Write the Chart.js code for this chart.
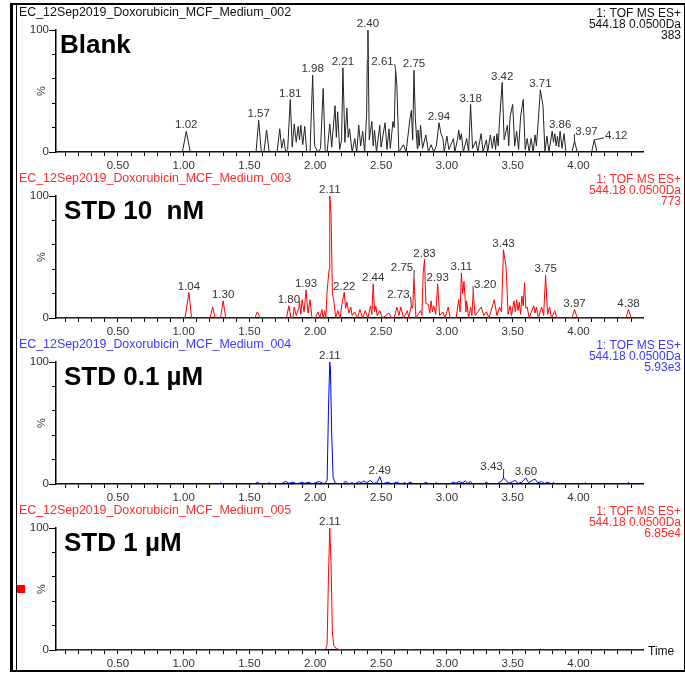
<!DOCTYPE html>
<html>
<head>
<meta charset="utf-8">
<script src="https://cdn.jsdelivr.net/npm/chart.js@4/dist/chart.umd.min.js"></script>
<style>
  body { margin: 0; background: #fff; }
  #page { position: relative; width: 685px; height: 673px; overflow: hidden; background: #fff; }
  #page canvas { position: absolute; left: 0; }
  .frame { position: absolute; pointer-events: none; }
</style>
</head>
<body>
<div id="page">
  <canvas id="p0" width="685" height="174" style="top:0px"></canvas>
  <canvas id="p1" width="685" height="174" style="top:166px"></canvas>
  <canvas id="p2" width="685" height="174" style="top:332px"></canvas>
  <canvas id="p3" width="685" height="174" style="top:498px"></canvas>
  <div class="frame" style="left:10px;top:3px;width:671px;height:665px;border:2px solid #000;border-left-width:3px"></div>
  <div class="frame" style="left:16px;top:3px;width:1px;height:668px;background:#000"></div>
</div>
<script>
// chromatogram data, time (min) vs relative intensity (%)
const fileNames = [
  "EC_12Sep2019_Doxorubicin_MCF_Medium_002",
  "EC_12Sep2019_Doxorubicin_MCF_Medium_003",
  "EC_12Sep2019_Doxorubicin_MCF_Medium_004",
  "EC_12Sep2019_Doxorubicin_MCF_Medium_005"
];
const sampleLabels = ["Blank", "STD 10  nM", "STD 0.1 µM", "STD 1 µM"];
const scaleTexts = ["383", "773", "5.93e3", "6.85e4"];

const blankTime = [0.03, 0.99, 1.02, 1.05, 1.55, 1.57, 1.59, 1.61, 1.63, 1.65, 1.71, 1.73, 1.745, 1.76, 1.775,
  1.79, 1.81, 1.825, 1.84, 1.855, 1.87, 1.88, 1.89, 1.905, 1.92, 1.935, 1.96, 1.98, 1.995, 2.02, 2.04, 2.06, 2.075,
  2.09, 2.11, 2.125, 2.15, 2.16, 2.17, 2.185, 2.20, 2.21, 2.225, 2.24, 2.25, 2.26, 2.28, 2.30, 2.315, 2.33, 2.345,
  2.36, 2.375, 2.39, 2.395, 2.40, 2.41, 2.43, 2.44, 2.45, 2.465, 2.49, 2.50, 2.53, 2.545, 2.56, 2.57, 2.59, 2.60,
  2.61, 2.62, 2.635, 2.67, 2.69, 2.72, 2.73, 2.74, 2.75, 2.76, 2.775, 2.78, 2.79, 2.80, 2.815, 2.84, 2.86, 2.88,
  2.90, 2.92, 2.94, 2.955, 2.97, 2.98, 3.00, 3.015, 3.05, 3.06, 3.08, 3.09, 3.10, 3.11, 3.125, 3.15, 3.165, 3.18,
  3.195, 3.22, 3.235, 3.26, 3.275, 3.30, 3.31, 3.33, 3.345, 3.36, 3.37, 3.38, 3.39, 3.40, 3.42, 3.435, 3.46, 3.47,
  3.48, 3.50, 3.515, 3.53, 3.545, 3.56, 3.58, 3.595, 3.61, 3.625, 3.64, 3.655, 3.67, 3.68, 3.69, 3.71, 3.73, 3.745,
  3.76, 3.775, 3.80, 3.81, 3.82, 3.83, 3.84, 3.85, 3.86, 3.875, 3.89, 3.905, 3.95, 3.97, 3.99, 4.10, 4.12, 4.14, 4.49];
const blankPct = [0, 0, 17, 0, 0, 26, 0, 0, 18, 0, 0, 19, 3, 11, 0,
  2, 43, 4, 23, 8, 21, 10, 22, 6, 21, 0, 0, 63, 5, 0, 3, 52, 2,
  0, 23, 4, 38, 12, 33, 2, 10, 69, 8, 36, 12, 19, 0, 11, 0, 22, 5,
  17, 0, 30, 75, 100, 10, 25, 5, 18, 0, 22, 4, 24, 2, 19, 3, 25, 20,
  67, 55, 0, 6, 0, 28, 34, 10, 67, 28, 3, 18, 5, 22, 3, 14, 0, 6,
  0, 5, 24, 15, 11, 0, 13, 2, 11, 0, 10, 18, 10, 15, 0, 11, 0, 39,
  3, 9, 0, 15, 0, 10, 0, 14, 3, 13, 2, 15, 5, 26, 57, 10, 22, 5,
  29, 39, 5, 17, 2, 29, 43, 2, 11, 0, 11, 0, 14, 5, 19, 51, 38, 0,
  13, 0, 17, 8, 15, 5, 13, 4, 17, 3, 15, 0, 0, 9, 0, 0, 10, 0, 0];
const blankPeaks = [1.02, 1.57, 1.81, 1.98, 2.21, 2.40, 2.61, 2.75, 2.94, 3.18, 3.42, 3.71, 3.86, 3.97, 4.12];

const nm10Time = [0.03, 1.01, 1.04, 1.06, 1.20, 1.22, 1.24, 1.28, 1.30, 1.32, 1.54, 1.56, 1.58, 1.78, 1.80, 1.815,
  1.83, 1.84, 1.855, 1.875, 1.88, 1.89, 1.90, 1.915, 1.93, 1.945, 1.96, 1.975, 2.00, 2.02, 2.035, 2.05, 2.06, 2.07,
  2.08, 2.09, 2.105, 2.11, 2.12, 2.13, 2.14, 2.155, 2.17, 2.19, 2.20, 2.22, 2.23, 2.24, 2.255, 2.27, 2.28, 2.30,
  2.32, 2.34, 2.36, 2.38, 2.40, 2.42, 2.43, 2.44, 2.45, 2.46, 2.47, 2.49, 2.51, 2.56, 2.58, 2.60, 2.62, 2.635, 2.65,
  2.67, 2.70, 2.71, 2.73, 2.74, 2.75, 2.765, 2.80, 2.81, 2.82, 2.83, 2.84, 2.86, 2.87, 2.88, 2.89, 2.90, 2.915,
  2.93, 2.945, 2.97, 2.985, 3.01, 3.025, 3.07, 3.09, 3.10, 3.11, 3.12, 3.13, 3.145, 3.15, 3.165, 3.18, 3.19, 3.20,
  3.215, 3.26, 3.28, 3.30, 3.32, 3.36, 3.38, 3.40, 3.415, 3.43, 3.45, 3.465, 3.48, 3.49, 3.51, 3.52, 3.53, 3.54,
  3.55, 3.56, 3.57, 3.58, 3.59, 3.60, 3.61, 3.625, 3.66, 3.67, 3.68, 3.695, 3.72, 3.735, 3.75, 3.765, 3.78, 3.795,
  3.82, 3.835, 3.95, 3.97, 3.99, 4.36, 4.38, 4.40, 4.49];
const nm10Pct = [0, 0, 21, 0, 0, 9, 0, 0, 14, 0, 0, 5, 0, 0, 10, 0,
  0, 9, 2, 8, 14, 3, 15, 5, 23, 4, 15, 0, 0, 5, 0, 7, 0, 6,
  0, 22, 40, 100, 85, 20, 15, 0, 6, 0, 10, 21, 8, 13, 4, 9, 2, 5,
  0, 7, 0, 6, 0, 10, 3, 28, 5, 10, 2, 6, 0, 4, 0, 0, 9, 2, 9,
  0, 6, 0, 10, 8, 32, 0, 6, 2, 37, 48, 12, 11, 4, 14, 5, 10, 3,
  28, 2, 5, 0, 9, 0, 0, 15, 5, 37, 20, 30, 5, 14, 0, 9, 2, 21,
  2, 9, 2, 5, 0, 15, 2, 9, 5, 56, 41, 3, 10, 2, 14, 5, 15, 6,
  13, 3, 18, 10, 29, 8, 9, 0, 10, 4, 9, 0, 9, 2, 35, 3, 9, 0,
  6, 0, 0, 7, 0, 0, 7, 0, 0];
const nm10Peaks = [1.04, 1.30, 1.80, 1.93, 2.11, 2.22, 2.44, 2.73, 2.75, 2.83, 2.93, 3.11, 3.20, 3.43, 3.75, 3.97, 4.38];

const um01Time = [0.03, 1.27, 1.28, 1.30, 1.54, 1.56, 1.58, 1.63, 1.65, 1.67, 1.74, 1.76, 1.78, 1.80, 1.83, 1.86,
  1.90, 1.92, 1.95, 1.98, 2.00, 2.03, 2.05, 2.07, 2.09, 2.10, 2.11, 2.115, 2.125, 2.135, 2.15, 2.18, 2.21, 2.23,
  2.25, 2.28, 2.30, 2.33, 2.35, 2.37, 2.39, 2.42, 2.44, 2.47, 2.49, 2.51, 2.55, 2.58, 2.62, 2.65, 2.68, 2.70, 2.72,
  2.75, 2.82, 2.84, 2.86, 2.90, 2.92, 2.94, 3.02, 3.05, 3.07, 3.09, 3.12, 3.14, 3.16, 3.18, 3.20, 3.28, 3.30, 3.32,
  3.38, 3.40, 3.42, 3.43, 3.45, 3.47, 3.50, 3.52, 3.54, 3.57, 3.60, 3.62, 3.65, 3.67, 3.69, 3.72, 3.74, 3.77, 3.79,
  3.81, 3.83, 4.04, 4.05, 4.07, 4.36, 4.38, 4.40, 4.49];
const um01Pct = [0, 0, 1, 0, 0, 1.5, 0, 0, 1, 0, 0, 1.5, 2, 0.5, 1.5, 0,
  1.5, 0.5, 1.5, 0, 1, 2, 1, 0, 3, 60, 100, 95, 40, 6, 1, 0, 0, 2.5,
  0, 1, 0, 2, 1, 2.5, 1, 3, 0.5, 1, 6, 0, 1.5, 0, 1.5, 0, 1, 0, 1.5,
  0, 0, 1.5, 0, 0, 1, 0, 0, 1.5, 0.5, 2, 1, 2.5, 0.5, 2, 0, 0, 1.5, 0,
  0, 1.5, 3, 5, 3, 0.5, 2, 3, 0.5, 1.5, 5, 1, 3, 4, 1, 2, 0.5, 1.5, 0,
  1, 0, 0, 1, 0, 0, 1, 0, 0];
const um01Peaks = [2.11, 2.49, 3.43, 3.60];

const um1Time = [0.03, 2.07, 2.08, 2.09, 2.10, 2.11, 2.12, 2.13, 2.14, 2.16, 2.18, 2.20, 2.31, 2.32, 2.33, 2.41,
  2.42, 2.43, 2.58, 2.59, 2.60, 2.62, 2.63, 2.71, 2.72, 2.73, 2.82, 2.83, 2.84, 3.07, 3.08, 3.09, 3.47, 3.48, 3.49,
  3.70, 3.71, 3.72, 4.49];
const um1Pct = [0, 0, 1, 5, 60, 100, 70, 15, 4, 1, 0.5, 0, 0, 0.6, 0, 0,
  0.6, 0, 0, 0.6, 0, 0.6, 0, 0, 0.6, 0, 0, 0.6, 0, 0, 0.6, 0, 0, 0.6, 0,
  0, 0.8, 0, 0];
const um1Peaks = [2.11];

const timeMin = 0.03, timeMax = 4.49;
const FONT = "Arial, 'Liberation Sans', sans-serif";

const panels = [
  { time: blankTime, pct: blankPct, peaks: blankPeaks, line: "#222", head: "#111", labelX: 60,
    leaders: { "2.61": [-13, -8], "3.97": [12, -9], "4.12": [22, -4] } },
  { time: nm10Time, pct: nm10Pct, peaks: nm10Peaks, line: "#ff0000", head: "#ff2a2a", labelX: 64,
    leaders: { "2.73": [-13, -11], "2.75": [-12, -11], "3.20": [12, -8] } },
  { time: um01Time, pct: um01Pct, peaks: um01Peaks, line: "#0000ff", head: "#3a3aff", labelX: 64,
    leaders: { "3.43": [-12, -11] } },
  { time: um1Time, pct: um1Pct, peaks: um1Peaks, line: "#ff0000", head: "#ff2a2a", labelX: 64,
    leaders: {}, last: true }
];

const panelText = {
  id: "panelText",
  afterDraw(chart, args, opts) {
    const p = panels[opts.index];
    const ctx = chart.ctx;
    const xs = chart.scales.x, ys = chart.scales.y;
    const area = chart.chartArea;
    ctx.save();
    ctx.font = "12.4px " + FONT;
    ctx.fillStyle = p.head;
    ctx.textBaseline = "middle";
    ctx.textAlign = "left";
    ctx.fillText(fileNames[opts.index], 19, 13);
    ctx.font = "12px " + FONT;
    ctx.textAlign = "right";
    ctx.fillText("1: TOF MS ES+", 681, 14);
    ctx.fillText("544.18 0.0500Da", 681, 25);
    ctx.fillText(scaleTexts[opts.index], 681, 36);

    ctx.font = "bold 26px " + FONT;
    ctx.fillStyle = "#000";
    ctx.textAlign = "left";
    ctx.textBaseline = "alphabetic";
    ctx.fillText(sampleLabels[opts.index], p.labelX, 53);

    // % axis label
    const mid = (area.top + area.bottom) / 2;
    ctx.save();
    ctx.translate(42, mid);
    ctx.rotate(-Math.PI / 2);
    ctx.font = "11px " + FONT;
    ctx.fillStyle = "#333";
    ctx.textAlign = "center";
    ctx.textBaseline = "middle";
    ctx.fillText("%", 0, 0);
    ctx.restore();

    // longer ticks at 0 and 100
    ctx.strokeStyle = "#000";
    ctx.lineWidth = 1;
    [0, 100].forEach(v => {
      const y = Math.round(ys.getPixelForValue(v)) + 0.5;
      ctx.beginPath();
      ctx.moveTo(area.left - 7, y);
      ctx.lineTo(area.left, y);
      ctx.stroke();
    });

    // peak labels
    ctx.font = "11.5px " + FONT;
    ctx.fillStyle = "#333";
    ctx.strokeStyle = "#333";
    ctx.textAlign = "center";
    ctx.textBaseline = "middle";
    p.peaks.forEach(t => {
      const i = p.time.indexOf(t);
      const ax = xs.getPixelForValue(t);
      const ay = ys.getPixelForValue(p.pct[i]);
      const txt = t.toFixed(2);
      const off = p.leaders[txt];
      if (off) {
        const cx = ax + off[0], cy = ay + off[1];
        ctx.fillText(txt, cx, cy);
        const w = ctx.measureText(txt).width;
        const ex = off[0] < 0 ? cx + w / 2 + 1 : cx - w / 2 - 1;
        ctx.beginPath();
        ctx.moveTo(ex, cy + 2);
        ctx.lineTo(ax, ay);
        ctx.stroke();
      } else {
        ctx.fillText(txt, ax, ay - 6);
      }
    });

    if (p.last) {
      ctx.font = "12px " + FONT;
      ctx.fillStyle = "#111";
      ctx.textAlign = "left";
      ctx.fillText("Time", 648, area.bottom + 2);
      ctx.fillStyle = "#ff0000";
      ctx.fillRect(17, mid - 4, 8, 8);
    }
    ctx.restore();
  }
};

panels.forEach((p, idx) => {
  const points = p.time.map((t, i) => ({ x: t, y: p.pct[i] }));
  new Chart(document.getElementById("p" + idx), {
    type: "line",
    data: {
      datasets: [{
        data: points,
        borderColor: p.line,
        borderWidth: 1,
        pointRadius: 0,
        tension: 0,
        fill: false
      }]
    },
    options: {
      responsive: false,
      animation: false,
      layout: { padding: { top: 30, right: 42, left: 0, bottom: 0 } },
      plugins: {
        legend: { display: false },
        tooltip: { enabled: false },
        panelText: { index: idx }
      },
      scales: {
        x: {
          type: "linear",
          min: timeMin,
          max: timeMax,
          afterFit: s => { s.height = 22; },
          border: { color: "#000", width: 1.5 },
          grid: { drawOnChartArea: false, tickLength: 4, color: "#000" },
          ticks: {
            stepSize: 0.1,
            includeBounds: false,
            autoSkip: false,
            maxRotation: 0,
            padding: 3,
            color: "#333",
            font: { size: 11.5, family: FONT },
            callback: v => (Math.abs(v * 2 - Math.round(v * 2)) < 1e-6 ? v.toFixed(2) : "")
          }
        },
        y: {
          min: 0,
          max: 100,
          afterFit: s => { s.width = 56; },
          border: { color: "#000", width: 1.5 },
          grid: { drawOnChartArea: false, tickLength: 4, color: "#000" },
          ticks: {
            stepSize: 10,
            padding: 3,
            color: "#333",
            font: { size: 11.5, family: FONT },
            callback: v => (v === 0 || v === 100 ? String(v) : "")
          }
        }
      }
    },
    plugins: [panelText]
  });
});
</script>
</body>
</html>
